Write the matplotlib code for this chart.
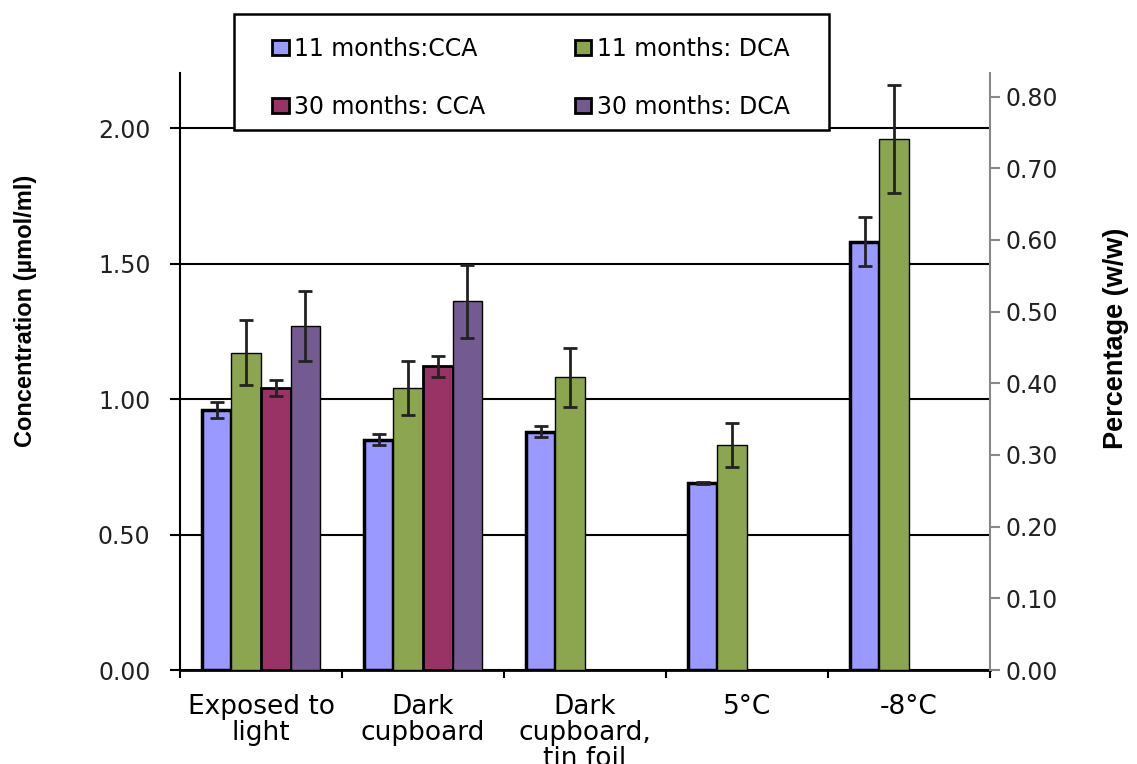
import numpy as np
import matplotlib.pyplot as plt
from matplotlib.patches import Rectangle

# values
categories = ['Exposed to\nlight', 'Dark\ncupboard', 'Dark\ncupboard,\ntin foil', '5°C', '-8°C']
cca_11 = [0.96, 0.85, 0.88, 0.69, 1.58]
dca_11 = [1.17, 1.04, 1.08, 0.83, 1.96]
cca_30 = [1.04, 1.12]
dca_30 = [1.27, 1.36]
cca_11_err = [0.03, 0.02, 0.02, 0.005, 0.09]
dca_11_err = [0.12, 0.10, 0.11, 0.08, 0.20]
cca_30_err = [0.03, 0.04]
dca_30_err = [0.13, 0.135]
series_names = ['11 months:CCA', '11 months: DCA', '30 months: CCA', '30 months: DCA']
colors = ['#9999ff', '#8ba64e', '#993366', '#735a90']

plt.rcParams['font.family'] = ['DejaVu Sans']

W, H = 1137, 764
fig = plt.figure(figsize=(W / 100, H / 100), dpi=100)
ax = fig.add_axes([180 / W, 1 - 670 / H, 810 / W, 597 / H])

w = 0.183
centers = np.arange(len(categories)) + 0.5
series = [(cca_11, cca_11_err), (dca_11, dca_11_err), (cca_30, cca_30_err), (dca_30, dca_30_err)]
edge_w = [2.5, 1.0, 2.0, 1.0]
handles = []
for k, (vals, errs) in enumerate(series):
    x = centers[:len(vals)] + (k - 1.5) * w
    b = ax.bar(x, vals, width=w, color=colors[k], edgecolor='black',
               linewidth=edge_w[k], zorder=3, label=series_names[k])
    ax.errorbar(x, vals, yerr=errs, fmt='none', ecolor='#222222',
                elinewidth=2, capsize=5, capthick=2, zorder=4)
    handles.append(b)

ax.set_xlim(0, len(categories))
ax.set_ylim(0, 2.203)
left_ticks = [0, 0.5, 1.0, 1.5, 2.0]
ax.set_yticks(left_ticks)
ax.set_yticklabels(['%.2f' % v for v in left_ticks], fontsize=17, color='#222222')
ax.yaxis.grid(True, color='black', linewidth=1.5)
ax.set_axisbelow(True)
ax.set_xticks(centers)
ax.set_xticklabels(categories, fontsize=19, linespacing=1.0)
ax.set_xticks(range(len(categories) + 1), minor=True)
ax.tick_params(axis='x', which='major', length=0, pad=17)
ax.tick_params(axis='x', which='minor', length=6, width=1.5, direction='out')
ax.tick_params(axis='y', length=7.2, width=1.5, direction='out', pad=14)
for s in ['top', 'right']:
    ax.spines[s].set_visible(False)
ax.spines['left'].set_linewidth(1.5)
ax.spines['bottom'].set_linewidth(2)

ax2 = ax.twinx()
ax2.set_ylim(0, 0.833)
pct_ticks = np.arange(0, 0.81, 0.1)
ax2.set_yticks(pct_ticks)
ax2.set_yticklabels(['%.2f' % v for v in pct_ticks], fontsize=17, color='#222222')
ax2.tick_params(axis='y', length=7.2, width=1.5, color='#888888', direction='out', pad=4)
for s in ['top', 'left', 'bottom']:
    ax2.spines[s].set_visible(False)
ax2.spines['right'].set_color('#888888')
ax2.spines['right'].set_linewidth(1.5)

label_font = ['Liberation Sans Narrow', 'Liberation Sans']
fig.text(26 / W, 1 - 311 / H, 'Concentration (µmol/ml)', rotation=90,
         ha='center', va='center', fontsize=17, fontweight='bold', family=label_font)
fig.text(1116 / W, 1 - 338 / H, 'Percentage (w/w)', rotation=90,
         ha='center', va='center', fontsize=19.5, fontweight='bold', family=label_font)

# legend box drawn separately so the entries can sit inside it with side padding
fig.add_artist(Rectangle((234 / W, 1 - 130 / H), 595 / W, 116 / H, transform=fig.transFigure,
                         facecolor='white', edgecolor='black', linewidth=1.8, zorder=4))
leg_order = [0, 2, 1, 3]  # row-wise: 11 months on top, 30 months below
leg = fig.legend(handles=[handles[i] for i in leg_order], loc='center', ncol=2, mode='expand',
                 bbox_to_anchor=(272 / W, 1 - 136 / H, 518 / W, 116 / H),
                 borderaxespad=0, borderpad=0, fontsize=17, handlelength=0.7,
                 handleheight=0.6, handletextpad=0.25, labelspacing=1.46, frameon=False)
leg.set_zorder(5)
for h in leg.legend_handles:
    h.set_linewidth(2)

fig.savefig('out.png', dpi=100)
